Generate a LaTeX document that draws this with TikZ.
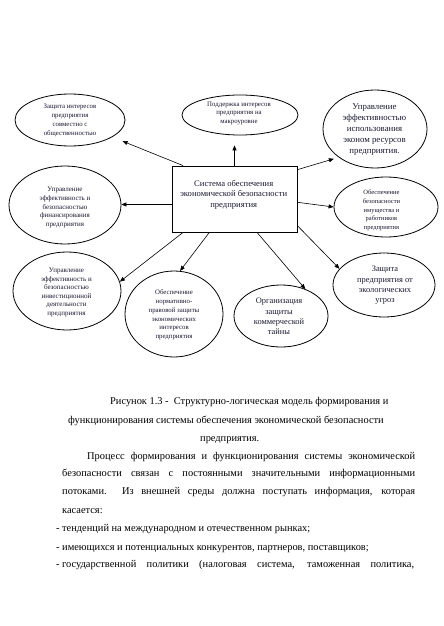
\documentclass[tikz,border=0pt]{standalone}
\usepackage{fontspec}
\setmainfont{Liberation Serif}
\usetikzlibrary{shapes.geometric,arrows.meta,calc}
\definecolor{ink}{RGB}{25,25,50}
\begin{document}
\begin{tikzpicture}[x=1pt,y=-1pt,
  ell/.style={draw,ellipse,line width=0.8pt,inner sep=0pt},
  lbl/.style={align=center,text=ink,inner sep=0pt},
  arr/.style={-{Triangle[length=5pt,width=4pt]},line width=0.6pt},
  body/.style={anchor=base west,inner sep=0pt,font=\fontsize{10.4}{12}\selectfont}]
\fill[white] (0,0) rectangle (444,626);
\useasboundingbox (0,0) rectangle (444,626);

% central box
\node[draw,line width=0.9pt,minimum width=125pt,minimum height=66pt,inner sep=0pt] (sys) at (234.5,199) {};
\node[lbl,font=\fontsize{8.6}{10.5}\selectfont] (syst) at (233.7,194.5) {Система обеспечения\\экономической безопасности\\предприятия};

% ellipses
\node[ell,minimum width=110pt,minimum height=52pt] (tl) at (70,120) {};
\node[lbl,font=\fontsize{6.8}{9}\selectfont] (tlt) at (70,120.5) {Защита интересов\\предприятия\\совместно с\\общественностью};

\node[ell,minimum width=116pt,minimum height=40pt] (tc) at (240,115) {};
\node[lbl,font=\fontsize{6.8}{8.5}\selectfont] (tct) at (239,113.5) {Поддержка интересов\\предприятия на\\макроуровне};

\node[ell,minimum width=104pt,minimum height=78pt] (tr) at (375,129) {};
\node[lbl,font=\fontsize{8.8}{10.8}\selectfont] (trt) at (374.5,129.5) {Управление\\эффективностью\\использования\\эконом ресурсов\\предприятия.};

\node[ell,minimum width=112pt,minimum height=78pt] (lf) at (65,205) {};
\node[lbl,font=\fontsize{7}{8.8}\selectfont] (lft) at (65,207.5) {Управление\\эффективность и\\безопасностью\\финансирования\\предприятия};

\node[ell,minimum width=104pt,minimum height=60pt] (rt) at (386,207) {};
\node[lbl,font=\fontsize{6.5}{8.7}\selectfont] (rtt) at (381.5,210.5) {Обеспечение\\безопасности\\имущества и\\работников\\предприятия};

\node[ell,minimum width=108pt,minimum height=78pt] (bl) at (67,291) {};
\node[lbl,font=\fontsize{7}{8.6}\selectfont] (blt) at (66.5,292.5) {Управление\\эффективность и\\безопасностью\\инвестиционной\\деятельности\\предприятия};

\node[ell,minimum width=98pt,minimum height=86pt] (nm) at (174,314) {};
\node[lbl,font=\fontsize{6.8}{8.7}\selectfont] (nmt) at (174,315) {Обеспечение\\нормативно-\\правовой защиты\\экономических\\интересов\\предприятия};

\node[ell,minimum width=94pt,minimum height=62pt] (km) at (281,316) {};
\node[lbl,font=\fontsize{8.4}{10.3}\selectfont] (kmt) at (279,316.5) {Организация\\защиты\\коммерческой\\тайны};

\node[ell,minimum width=102pt,minimum height=64pt] (ec) at (384,285) {};
\node[lbl,font=\fontsize{8.4}{10.3}\selectfont] (ect) at (385,285.5) {Защита\\предприятия от\\экологических\\угроз};

% connectors
\draw[arr,shorten >=11pt] (sys.147) -- (tl);
\draw[arr,shorten >=10pt] (sys.north) -- (sys.north |- tc.south);
\draw[arr,shorten >=5pt] (sys.25) -- (tr.218);
\draw[arr] (sys.185) -- (sys.185 -| lf.east);
\draw[arr] (sys.357) -- (rt.west);
\draw[arr] (sys.213) -- (bl.10);
\draw[arr] (sys.233) -- (nm.82);
\draw[arr] (sys.304) -- (km.48);
\draw[arr] (sys.337) -- (ec.160);

% text below
\node[body] (c1) at (110,404.5) {Рисунок 1.3 -\ \ Структурно-логическая модель формирования и};
\node[body] (c2) at (68,423.5) {функционирования системы обеспечения экономической безопасности};
\node[body] (c3) at (200,441.5) {предприятия.};
\node[body] (p1) at (87,459.5) {\makebox[328pt][s]{Процесс формирования и функционирования системы экономической}};
\node[body] (p2) at (62,476.5) {\makebox[353pt][s]{безопасности связан с постоянными значительными информационными}};
\node[body] (p3) at (62,494.5) {\makebox[353pt][s]{потоками.\ \ Из внешней среды должна поступать информация, которая}};
\node[body] (p4) at (62,513.5) {касается:};
\node[body] (b1) at (56,531.5) {\makebox[6pt][l]{-}тенденций на международном и отечественном рынках;};
\node[body] (b2) at (56,550.5) {\makebox[6pt][l]{-}имеющихся и потенциальных конкурентов, партнеров, поставщиков;};
\node[body] (b3) at (56,567.5) {\makebox[6pt][l]{-}\makebox[352pt][s]{государственной политики (налоговая система, таможенная политика,}};
\end{tikzpicture}
\end{document}
